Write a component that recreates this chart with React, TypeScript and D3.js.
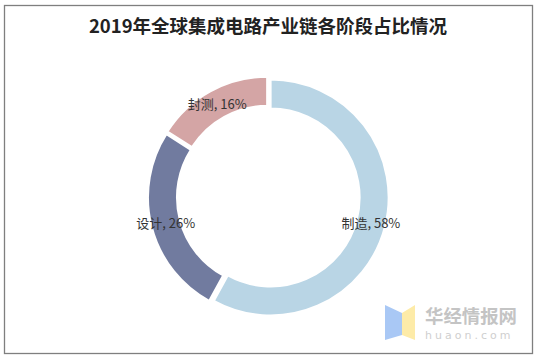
import React from "react";
import * as d3 from "d3";

const categories = ["制造", "设计", "封测"];
const values = [58, 26, 16];
const colors = ["#B9D5E5", "#717B9F", "#D4A5A5"];
const title = "2019年全球集成电路产业链各阶段占比情况";

const W = 540;
const H = 361;
const cx = 268.3;
const cy = 196.9;
const rOuter = 118;
const rInner = 89;
const explode = 2.4;

export default function App() {
  const pie = d3
    .pie<number>()
    .sort(null)
    .startAngle(0)
    .endAngle(2 * Math.PI)
    .value((d) => d);
  const arcs = pie(values);
  const arcGen = d3.arc<d3.PieArcDatum<number>>().innerRadius(rInner).outerRadius(rOuter);
  const total = d3.sum(values);
  const rMid = (rInner + rOuter) / 2;

  return (
    <svg
      width={W}
      height={H}
      style={{ position: "fixed", left: 0, top: 0, background: "#fff" }}
    >
      <rect x={0} y={0} width={W} height={H} fill="#fff" />
      <rect x={4.5} y={5.5} width={528} height={348} fill="none" stroke="#7f7f7f" strokeWidth={1.3} />
      <text
        x={268}
        y={33}
        textAnchor="middle"
        fontFamily="'Noto Sans CJK SC', sans-serif"
        fontWeight={700}
        fontSize={18.5}
        fill="#222"
      >
        {title}
      </text>
      <g transform={`translate(${cx},${cy})`}>
        {arcs.map((a, i) => {
          const mid = (a.startAngle + a.endAngle) / 2;
          const dx = Math.sin(mid) * explode;
          const dy = -Math.cos(mid) * explode;
          return (
            <path
              key={categories[i]}
              d={arcGen(a) || ""}
              transform={`translate(${dx},${dy})`}
              fill={colors[i]}
              stroke="#fff"
              strokeWidth={2}
            />
          );
        })}
        {arcs.map((a, i) => {
          const mid = (a.startAngle + a.endAngle) / 2;
          const r = rMid + explode;
          const x = Math.sin(mid) * r;
          const y = -Math.cos(mid) * r;
          const pct = Math.round((values[i] / total) * 100);
          return (
            <text
              key={"l" + i}
              x={x}
              y={y}
              dy="0.35em"
              textAnchor="middle"
              fontFamily="'Noto Sans CJK SC', sans-serif"
              fontSize={13}
              fill="#333"
            >
              {`${categories[i]}, ${pct}%`}
            </text>
          );
        })}
      </g>
      <g>
        <polygon points="385,305 402,313 402,335 385,340" fill="#A9C8F5" />
        <polygon points="402,313 415,305 415,340 402,335" fill="#FDEBA8" />
        <text
          x={425}
          y={323}
          fontFamily="'Noto Sans CJK SC', sans-serif"
          fontWeight={700}
          fontSize={18.4}
          fill="#c4c4c4"
        >
          华经情报网
        </text>
        <text
          x={425}
          y={339}
          fontFamily="'DejaVu Sans', sans-serif"
          fontSize={11}
          letterSpacing={3}
          fill="#cfcfcf"
        >
          huaon.com
        </text>
      </g>
    </svg>
  );
}
